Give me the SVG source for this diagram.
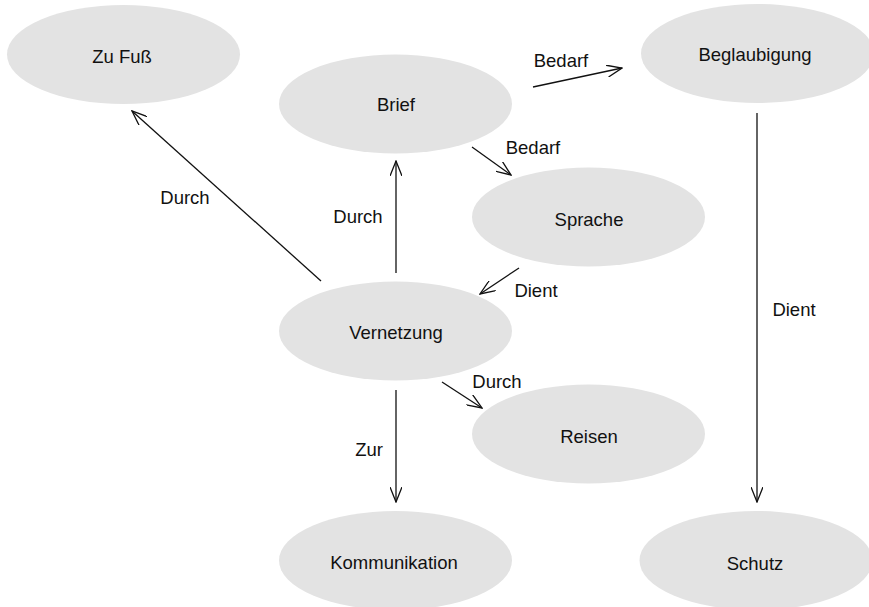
<svg xmlns="http://www.w3.org/2000/svg" width="869" height="607" viewBox="0 0 869 607">
  <style>
    .node ellipse { fill: #e3e3e3; stroke: none; }
    .node text { font-family: "Liberation Sans", Arial, sans-serif; font-size: 18.5px; fill: #111; text-anchor: middle; }
    .edge line { stroke: #111; stroke-width: 1.3; fill: none; marker-end: url(#arrow); }
    .label { font-family: "Liberation Sans", Arial, sans-serif; font-size: 18.5px; fill: #111; text-anchor: middle; }
  </style>
  <defs>
    <marker id="arrow" viewBox="0 0 16 12" refX="15" refY="6" markerWidth="16" markerHeight="12" markerUnits="userSpaceOnUse" orient="auto">
      <path d="M0,0 L15,6 L0,12" fill="none" stroke="#111" stroke-width="1.3"/>
    </marker>
  </defs>
  <rect width="869" height="607" fill="#ffffff"/>

  <g id="zu-fuss" class="node">
    <ellipse cx="123.5" cy="54.5" rx="116.5" ry="49.5"/>
    <text x="122" y="63">Zu Fuß</text>
  </g>
  <g id="brief" class="node">
    <ellipse cx="395.5" cy="104" rx="116.5" ry="49.5"/>
    <text x="396" y="111">Brief</text>
  </g>
  <g id="beglaubigung" class="node">
    <ellipse cx="757.5" cy="53.5" rx="116.5" ry="49.5"/>
    <text x="755" y="61">Beglaubigung</text>
  </g>
  <g id="sprache" class="node">
    <ellipse cx="588.5" cy="217" rx="116.5" ry="49.5"/>
    <text x="589" y="226">Sprache</text>
  </g>
  <g id="vernetzung" class="node">
    <ellipse cx="395.5" cy="331" rx="116.5" ry="49.5"/>
    <text x="396" y="339">Vernetzung</text>
  </g>
  <g id="reisen" class="node">
    <ellipse cx="588.5" cy="434" rx="116.5" ry="49.5"/>
    <text x="589" y="443">Reisen</text>
  </g>
  <g id="kommunikation" class="node">
    <ellipse cx="395.5" cy="560.5" rx="116.5" ry="49.5"/>
    <text x="394" y="569">Kommunikation</text>
  </g>
  <g id="schutz" class="node">
    <ellipse cx="756" cy="560.5" rx="116.5" ry="49.5"/>
    <text x="755" y="570">Schutz</text>
  </g>

  <g id="connectors" class="edge">
    <line x1="321" y1="281" x2="132" y2="111"/>
    <line x1="396" y1="273" x2="396" y2="161"/>
    <line x1="472" y1="147" x2="511" y2="175"/>
    <line x1="533" y1="87" x2="622" y2="68"/>
    <line x1="519" y1="268" x2="480" y2="294"/>
    <line x1="442" y1="382" x2="482" y2="408"/>
    <line x1="396" y1="390" x2="396" y2="502"/>
    <line x1="757" y1="113" x2="757" y2="502"/>
  </g>

  <g id="edge-labels">
    <text class="label" x="185" y="204">Durch</text>
    <text class="label" x="358" y="223">Durch</text>
    <text class="label" x="533" y="154">Bedarf</text>
    <text class="label" x="561" y="67">Bedarf</text>
    <text class="label" x="536" y="297">Dient</text>
    <text class="label" x="497" y="388">Durch</text>
    <text class="label" x="369" y="456">Zur</text>
    <text class="label" x="794" y="316">Dient</text>
  </g>
</svg>
